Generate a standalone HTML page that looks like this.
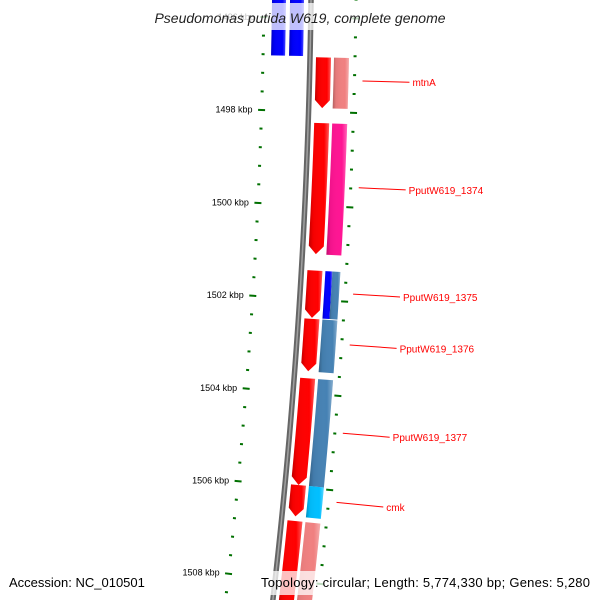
<!DOCTYPE html>
<html><head><meta charset="utf-8">
<style>
html,body{margin:0;padding:0;background:#fff;overflow:hidden;width:600px;height:600px;}
svg{display:block;font-family:"Liberation Sans","DejaVu Sans",sans-serif;}
</style></head>
<body>
<svg id="map" width="600" height="600" viewBox="0 0 600 600" xmlns="http://www.w3.org/2000/svg">
<defs>
<linearGradient id="shade" x1="0" x2="1" y1="0" y2="0">
<stop offset="0" stop-color="#000" stop-opacity="0.25"/>
<stop offset="0.2" stop-color="#000" stop-opacity="0.05"/>
<stop offset="0.75" stop-color="#fff" stop-opacity="0"/>
<stop offset="1" stop-color="#fff" stop-opacity="0.35"/>
</linearGradient>
</defs>
<g id="ticks"></g>
<g id="backbone"></g>
<g id="features"></g>
<g id="labels"></g>
<rect x="0" y="3" width="600" height="27" fill="#fff" opacity="0.75"/>
<text x="300" y="23" text-anchor="middle" font-size="14" font-style="italic" fill="#222">Pseudomonas putida W619, complete genome</text>
<rect x="4" y="571" width="154" height="24" fill="#fff" opacity="0.75"/>
<rect x="257" y="571" width="338" height="24" fill="#fff" opacity="0.75"/>
<text x="9" y="587" font-size="13" fill="#000">Accession: NC_010501</text>
<text x="261" y="587" font-size="13" fill="#000" textLength="329" lengthAdjust="spacing">Topology: circular; Length: 5,774,330 bp; Genes: 5,280</text>
</svg>
<script>
// ---- data ----
const tickMajorKbp = [1496, 1498, 1500, 1502, 1504, 1506, 1508];
const tickLabels = ["1496 kbp","1498 kbp","1500 kbp","1502 kbp","1504 kbp","1506 kbp","1508 kbp"];
const cdsStart = [1496.84, 1498.24, 1501.38, 1502.41, 1503.68, 1505.96, 1506.73];
const cdsEnd   = [1497.92, 1501.03, 1502.39, 1503.53, 1505.96, 1506.63, 1508.90];
const cogStart = [1496.84, 1498.24, 1501.38, 1501.38, 1502.41, 1503.68, 1505.96, 1506.73];
const cogEnd   = [1497.92, 1501.03, 1502.39, 1502.39, 1503.53, 1505.96, 1506.63, 1508.90];
const cogColor = ["#f08080","#ff1493","#0000ff","#4682b4","#4682b4","#4682b4","#00bfff","#f08080"];
const cogHalf  = [0,0,1,2,0,0,0,0]; // 0 full,1 inner half,2 outer half
const revStart = [1495.0, 1495.0];
const revEnd   = [1496.82, 1496.82];
const revColor = ["#0000ff","#0000ff"];
const geneNames = ["mtnA","PputW619_1374","PputW619_1375","PputW619_1376","PputW619_1377","cmk"];
const geneLabelKbp = [1497.32, 1499.58, 1501.83, 1502.91, 1504.78, 1506.25];

// ---- geometry ----
const R0 = 5917, CX = 311.5 - R0, CY = -75;
const PHI0 = 0.03152, DPHI = 46.5 / 5870;
function ang(k){ return PHI0 + (k - 1498) * DPHI; }
function pt(r, k){ const a = ang(k); return [CX + r*Math.cos(a), CY + r*Math.sin(a)]; }
const NS = "http://www.w3.org/2000/svg";
function mk(tag, attrs, parent){ const e=document.createElementNS(NS,tag); for(const k in attrs) e.setAttribute(k,attrs[k]); parent.appendChild(e); return e; }
function band(r1, r2, k1, k2, arrow){
  const pts=[]; const n=12;
  const kEnd = arrow ? k2 - 8/46.5 : k2;
  for(let i=0;i<=n;i++) pts.push(pt(r1, k1+(kEnd-k1)*i/n));
  if(arrow){ pts.push(pt((r1+r2)/2, k2)); }
  for(let i=n;i>=0;i--) pts.push(pt(r2, k1+(kEnd-k1)*i/n));
  return pts.map(p=>p[0].toFixed(2)+","+p[1].toFixed(2)).join(" ");
}
const gT=document.getElementById('ticks'), gB=document.getElementById('backbone'),
      gF=document.getElementById('features'), gL=document.getElementById('labels');

// backbone
{
  const p=[]; for(let y=-10;y<=610;y+=10){ const a=Math.asin((y-CY)/R0); p.push((CX+R0*Math.cos(a)).toFixed(2)+","+y); }
  const l1=mk('polyline',{points:p.join(" "),fill:"none",stroke:"#666","stroke-width":5.5},gB);
  
  
  const l2=mk('polyline',{points:p.join(" "),fill:"none",stroke:"#a0a0a0","stroke-width":1.5},gB);
  
  
}

// ticks
for(let k=1494; k<=1510.01; k+=0.4){
  const isMaj = tickMajorKbp.some(m=>Math.abs(m-k)<0.01);
  const len = isMaj?7:3;
  for(const side of [-1,1]){
    const rc = side<0 ? R0-47 : R0+45;
    const a=pt(rc-len/2,k), b=pt(rc+len/2,k);
    const t=mk('line',{x1:a[0],y1:a[1],x2:b[0],y2:b[1],stroke:"#007000","stroke-width":2},gT);
    
    
  }
}
tickMajorKbp.forEach((k,i)=>{
  const p=pt(R0-56,k);
  const t=mk('text',{x:p[0],y:p[1]+3,"text-anchor":"end","font-size":9,fill:"#000"},gT);
  t.textContent=tickLabels[i];
  
  
});

// reverse-strand blocks (top)
revStart.forEach((s,i)=>{
  const r1 = i===0 ? R0-39 : R0-21, r2 = r1+14;
  const pg=mk('polygon',{points:band(r1,r2,s,revEnd[i],false),fill:revColor[i]},gF);
  
  
  mk('polygon',{points:band(r1,r2,s,revEnd[i],false),fill:"url(#shade)"},gF);
});
// CDS arrows
cdsStart.forEach((s,i)=>{
  const pg=mk('polygon',{points:band(R0+6,R0+21,s,cdsEnd[i],true),fill:"#ff0000"},gF);
  
  
  mk('polygon',{points:band(R0+6,R0+21,s,cdsEnd[i],true),fill:"url(#shade)"},gF);
});
// COG blocks
cogStart.forEach((s,i)=>{
  let r1=R0+24, r2=R0+39;
  if(cogHalf[i]===1){ r2=R0+31; } else if(cogHalf[i]===2){ r1=R0+31; }
  const pg=mk('polygon',{points:band(r1,r2,s,cogEnd[i],false),fill:cogColor[i]},gF);
  
  
  mk('polygon',{points:band(r1,r2,s,cogEnd[i],false),fill:"url(#shade)"},gF);
});
// gene labels
geneNames.forEach((n,i)=>{
  const a=pt(R0+53,geneLabelKbp[i]), b=pt(R0+100,geneLabelKbp[i]);
  const ln=mk('line',{x1:a[0],y1:a[1],x2:b[0],y2:b[1],stroke:"#ff0000","stroke-width":1},gL);
  
  
  const t=mk('text',{x:b[0]+3,y:b[1]+4,"font-size":10,fill:"#ff0000"},gL);
  t.textContent=n;
  
  
});
</script>
</body></html>
